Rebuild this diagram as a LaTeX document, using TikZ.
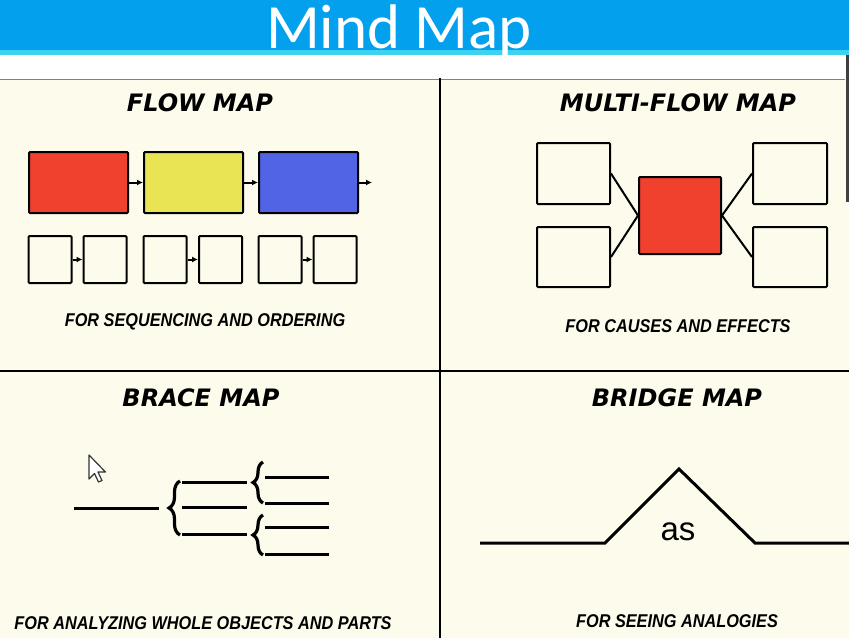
\documentclass[tikz,border=0pt]{standalone}
\usepackage{fontspec}
\setmainfont{Liberation Sans}
\newfontfamily\titlefont{Carlito}
\newfontfamily\headfont{DejaVu Sans}
\newfontfamily\capfont[FakeStretch=0.88]{Liberation Sans}
\usetikzlibrary{arrows.meta,decorations.pathreplacing}
\definecolor{bannerblue}{RGB}{3,160,238}
\definecolor{stripcyan}{RGB}{60,210,240}
\definecolor{cream}{RGB}{253,252,236}
\definecolor{fred}{RGB}{240,64,46}
\definecolor{fyellow}{RGB}{232,228,84}
\definecolor{fblue}{RGB}{82,100,230}
\tikzset{
  heading/.style={font=\headfont\bfseries\itshape\fontsize{24}{24}\selectfont, inner sep=0},
  caption/.style={font=\capfont\bfseries\itshape\fontsize{18.5}{18.5}\selectfont, inner sep=0},
  mapbox/.style={draw=black, line width=2pt, inner sep=0, rounded corners=1pt},
  flowarrow/.style={line width=2pt, -{Latex[length=6pt,width=6pt]}},
  thickline/.style={line width=3pt},
  bracestyle/.style={line width=3.2pt, decorate, decoration={brace, amplitude=#1}},
  divider/.style={line width=2pt, black}
}
\begin{document}
\begin{tikzpicture}[x=1pt,y=-1pt]
\useasboundingbox (0,0) rectangle (849,638);
% background
\fill[cream] (0,79) rectangle (849,638);
\fill[white] (0,55) rectangle (849,79);
\fill[bannerblue] (0,0) rectangle (849,50);
\fill[stripcyan] (0,50) rectangle (849,55);
\draw[gray, line width=1.5pt] (0,79.5) -- (845,79.5);
\fill[black!75] (846,55) rectangle (849,202);
\node[text=white, font=\titlefont\fontsize{63}{63}\selectfont, inner sep=0, anchor=base] (title) at (399,48) {Mind Map};
% dividers
\draw[divider] (440,78) -- (440,638);
\draw[divider] (0,371) -- (849,371);
% headings
\node[heading] (h1) at (200,103) {FLOW MAP};
\node[heading] (h2) at (678,103) {MULTI-FLOW MAP};
\node[heading] (h3) at (201,398) {BRACE MAP};
\node[heading] (h4) at (677,398) {BRIDGE MAP};
% flow map
\node[mapbox, fill=fred, minimum width=99, minimum height=61] (r) at (78.5,182.5) {};
\node[mapbox, fill=fyellow, minimum width=99, minimum height=61] (y) at (193.5,182.5) {};
\node[mapbox, fill=fblue, minimum width=99, minimum height=61] (b) at (308.5,182.5) {};
\coordinate (bend) at (372,182.5);
\draw[flowarrow] (r.east) -- (y.west);
\draw[flowarrow] (y.east) -- (b.west);
\draw[flowarrow] (b.east) -- (bend);
\foreach \n/\cx in {s1/50, s2/105, s3/165, s4/220.5, s5/280, s6/335} {
  \node[mapbox, fill=cream, minimum width=43, minimum height=47] (\n) at (\cx,259.5) {};
}
\draw[flowarrow] (s1.east) -- (s2.west);
\draw[flowarrow] (s3.east) -- (s4.west);
\draw[flowarrow] (s5.east) -- (s6.west);
\node[caption] (c1) at (205,322) {FOR SEQUENCING AND ORDERING};
% multi-flow map
\node[mapbox, fill=cream, minimum width=73, minimum height=61] (lt) at (573.5,173.5) {};
\node[mapbox, fill=cream, minimum width=73, minimum height=60] (lb) at (573.5,257) {};
\node[mapbox, fill=cream, minimum width=74, minimum height=61] (rt) at (790,173.5) {};
\node[mapbox, fill=cream, minimum width=74, minimum height=60] (rb) at (790,257) {};
\node[mapbox, fill=fred, minimum width=82, minimum height=77] (cen) at (680,215.5) {};
\draw[line width=2pt] (lt.east) -- (cen.west);
\draw[line width=2pt] (lb.east) -- (cen.west);
\draw[line width=2pt] (rt.west) -- (cen.east);
\draw[line width=2pt] (rb.west) -- (cen.east);
\node[caption] (c2) at (678,326) {FOR CAUSES AND EFFECTS};
% brace map
\draw[thickline] (74,508) -- (159,508);
\draw[bracestyle=11pt] (180,535) -- (180,481);
\draw[thickline] (182,482) -- (247,482);
\draw[thickline] (182,507) -- (247,507);
\draw[thickline] (182,534) -- (247,534);
\draw[bracestyle=10pt] (263,503) -- (263,462);
\draw[bracestyle=10pt] (263,555) -- (263,515);
\draw[thickline] (265,477) -- (329,477);
\draw[thickline] (265,503) -- (329,503);
\draw[thickline] (265,527) -- (329,527);
\draw[thickline] (265,554) -- (329,554);
\node[caption] (c3) at (203,623) {FOR ANALYZING WHOLE OBJECTS AND PARTS};
% cursor
\draw[fill=white, draw=black!80, line width=1.2pt, line join=round] (89,455) -- (89,479) -- (94.5,473.5) -- (98.5,482) -- (102,480.5) -- (98,472) -- (105.5,472) -- cycle;
% bridge map
\draw[thickline, line join=miter] (480,543) -- (605,543) -- (679,469) -- (755,543) -- (849,543);
\node[font=\fontsize{33}{33}\selectfont, inner sep=0] (as) at (678,532) {as};
\node[caption] (c4) at (677,621) {FOR SEEING ANALOGIES};
\end{tikzpicture}
\end{document}
